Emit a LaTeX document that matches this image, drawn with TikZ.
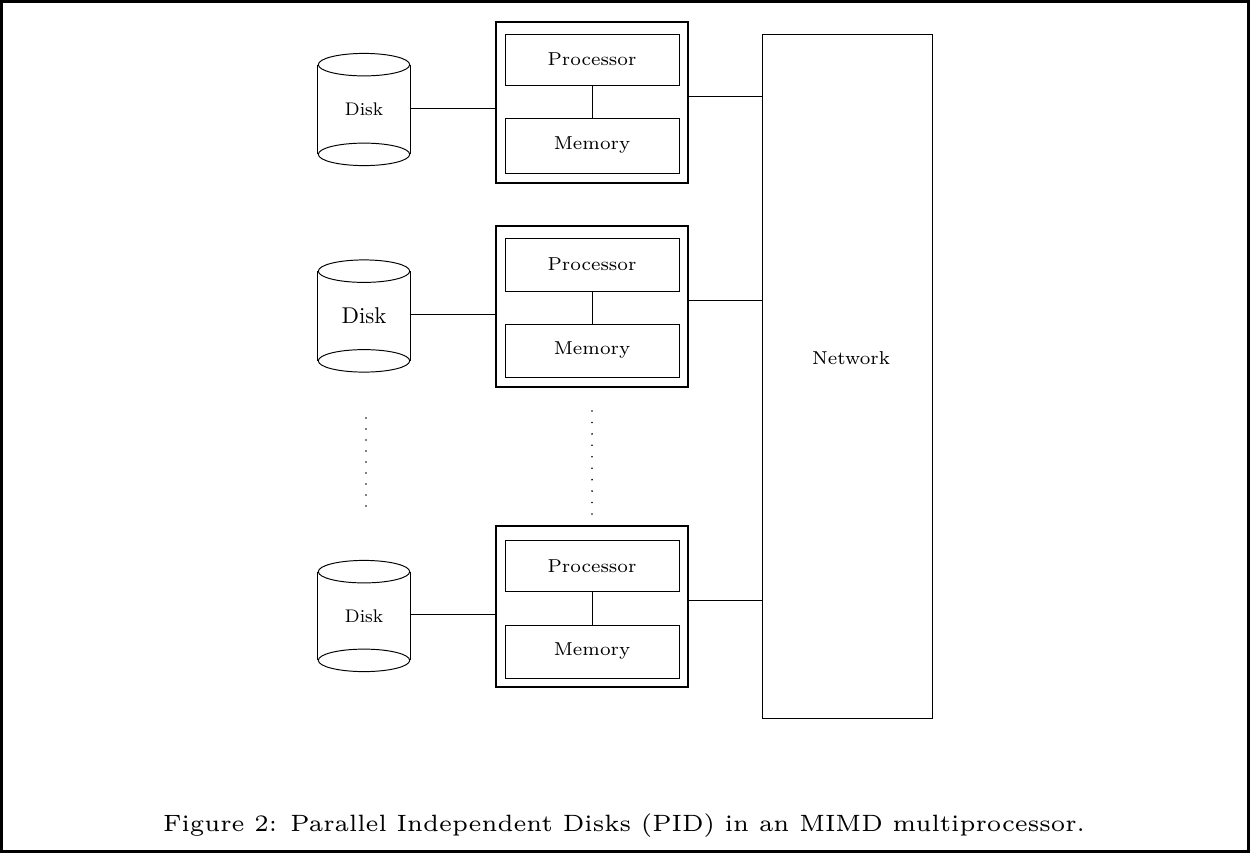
\documentclass[tikz,border=0pt]{standalone}
\usepackage{graphicx}
\newcommand\smtxt[1]{\scalebox{1.3}{\fontsize{8}{9.5}\selectfont #1}}
\newcommand\lbtxt[1]{\scalebox{1.52}{\fontsize{7}{8}\selectfont #1}}
\newcommand\nmtxt[1]{\scalebox{1.3}{\fontsize{10}{12}\selectfont #1}}
\newcommand\captxt[1]{\scalebox{2.24}{\fontsize{6}{7}\selectfont #1}}
\tikzset{
  ln/.style={line width=0.55pt},
  outerbox/.style={draw, line width=0.6pt, minimum width=192*0.02cm, minimum height=161*0.02cm, inner sep=0pt},
  innerbox/.style={draw, line width=0.55pt, minimum width=174*0.02cm, inner sep=0pt},
  diskbox/.style={minimum width=92*0.02cm, inner sep=0pt},
  diskline/.style={line width=0.55pt},
}
\begin{document}
\begin{tikzpicture}[x=0.02cm,y=-0.02cm]
\useasboundingbox (0,0) rectangle (1250,853);
\draw[line width=1.7pt] (1.5,1.5) rectangle (1248.5,851.5);

% network
\node[draw, ln, minimum width=170*0.02cm, minimum height=684*0.02cm, inner sep=0pt] (net) at (847,376) {};
\node (nettxt) at (851,358) {\lbtxt{Network}};

% processor boxes
\node[outerbox] (b1) at (592,102.5) {};
\node[innerbox, minimum height=51*0.02cm] (p1) at (592,59.5) {\lbtxt{Processor}};
\node[innerbox, minimum height=55*0.02cm] (m1) at (592,145.5) {\lbtxt{Memory}};

\node[outerbox] (b2) at (592,306.5) {};
\node[innerbox, minimum height=53*0.02cm] (p2) at (592,264.5) {\lbtxt{Processor}};
\node[innerbox, minimum height=53*0.02cm] (m2) at (592,350.5) {\lbtxt{Memory}};

\node[outerbox] (b3) at (592,606.5) {};
\node[innerbox, minimum height=51*0.02cm] (p3) at (592,566) {\lbtxt{Processor}};
\node[innerbox, minimum height=53*0.02cm] (m3) at (592,651.5) {\lbtxt{Memory}};

\foreach \i in {1,2,3}{
  \draw[ln] (p\i.south) -- (m\i.north);
  \draw[ln] ([yshift=6.5*0.02cm]b\i.east) -- ([yshift=6.5*0.02cm]b\i.east -| net.west);
}

% disks
\node[diskbox, minimum height=89*0.02cm] (d1) at (364,109.5) {\smtxt{Disk}};
\node[diskbox, minimum height=89*0.02cm] (d2) at (364,316) {\nmtxt{Disk}};
\node[diskbox, minimum height=88*0.02cm] (d3) at (364,616) {\smtxt{Disk}};

\foreach \i in {1,2,3}{
  \draw[diskline] (d\i.north) ellipse [x radius=0.914cm, y radius=0.225cm];
  \draw[diskline] (d\i.south) ellipse [x radius=0.914cm, y radius=0.225cm];
  \draw[diskline] (d\i.north west) -- (d\i.south west);
  \draw[diskline] (d\i.north east) -- (d\i.south east);
  \draw[ln] ([yshift=1.5*0.02cm]d\i.east) -- ([yshift=1.5*0.02cm]d\i.east -| b\i.west);
}

% dots
\foreach \k in {0,...,8} \fill (366,418+11*\k) circle (0.9);
\foreach \k in {0,...,9} \fill (592,411+11.44*\k) circle (0.9);

% caption
\node (cap) at (624,826) {\captxt{Figure 2: Parallel Independent Disks (PID) in an MIMD multiprocessor.}};
\end{tikzpicture}
\end{document}
